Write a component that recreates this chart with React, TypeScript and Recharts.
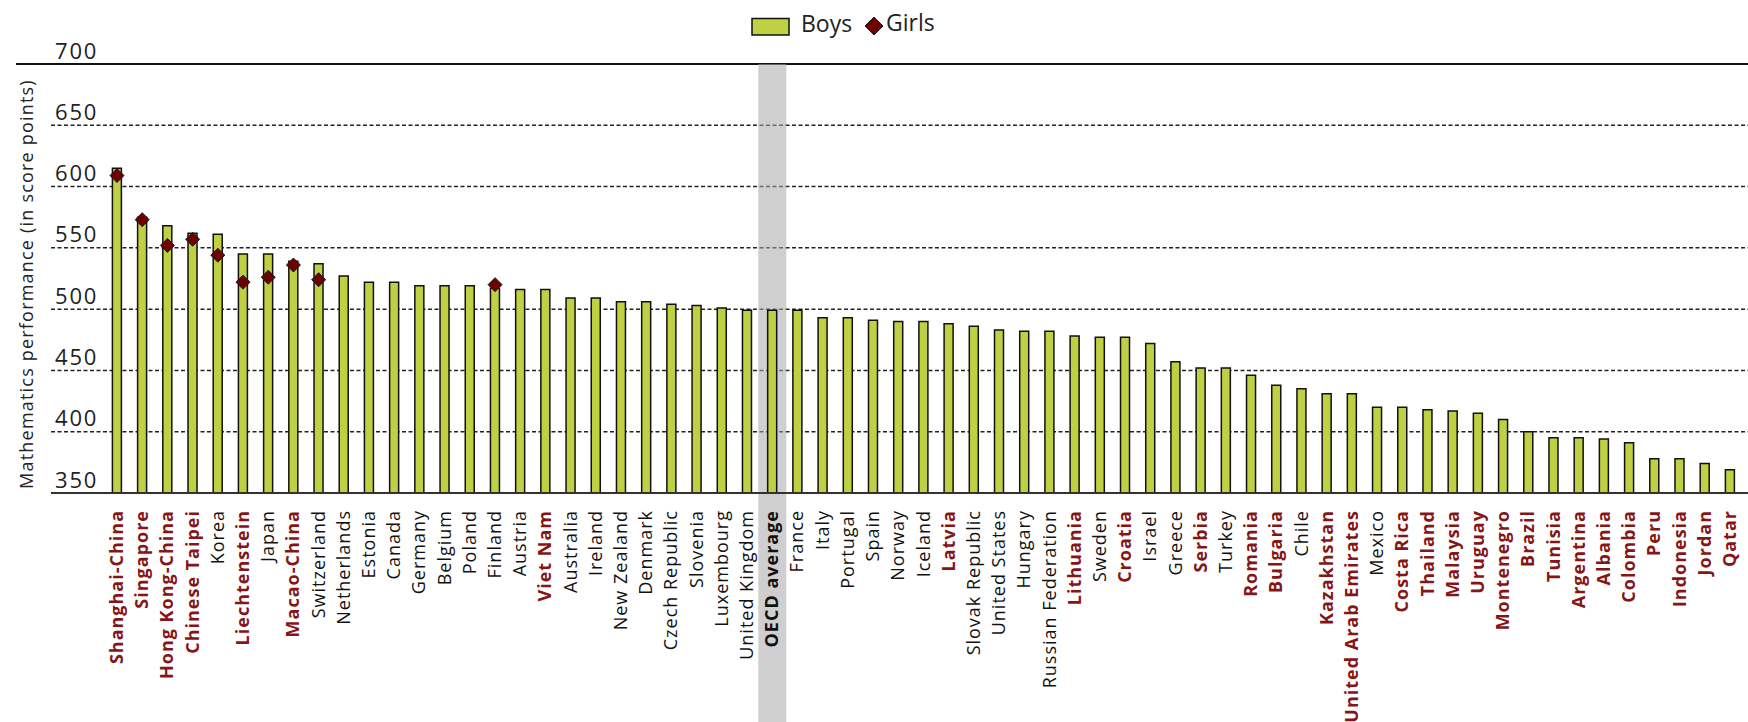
import { ComposedChart, Bar, Line, XAxis, YAxis, CartesianGrid, ReferenceArea } from "recharts";

// Mean mathematics scores by gender, sorted by the boys' score
const countries = [
  "Shanghai-China", "Singapore", "Hong Kong-China", "Chinese Taipei", "Korea",
  "Liechtenstein", "Japan", "Macao-China", "Switzerland", "Netherlands",
  "Estonia", "Canada", "Germany", "Belgium", "Poland", "Finland", "Austria",
  "Viet Nam", "Australia", "Ireland", "New Zealand", "Denmark", "Czech Republic",
  "Slovenia", "Luxembourg", "United Kingdom", "OECD average", "France", "Italy",
  "Portugal", "Spain", "Norway", "Iceland", "Latvia", "Slovak Republic",
  "United States", "Hungary", "Russian Federation", "Lithuania", "Sweden",
  "Croatia", "Israel", "Greece", "Serbia", "Turkey", "Romania", "Bulgaria",
  "Chile", "Kazakhstan", "United Arab Emirates", "Mexico", "Costa Rica",
  "Thailand", "Malaysia", "Uruguay", "Montenegro", "Brazil", "Tunisia",
  "Argentina", "Albania", "Colombia", "Peru", "Indonesia", "Jordan", "Qatar",
];

const boys = [
  615, 575, 568, 562, 561, 545, 545, 539, 537, 527,
  522, 522, 519, 519, 519, 517, 516, 516, 509, 509,
  506, 506, 504, 503, 501, 499, 499, 499, 493, 493,
  491, 490, 490, 488, 486, 483, 482, 482, 478, 477,
  477, 472, 457, 452, 452, 446, 438, 435, 431, 431,
  420, 420, 418, 417, 415, 410, 400, 395, 395, 394,
  391, 378, 378, 374, 369,
];

const girls: (number | null)[] = [
  609, 573, 552, 557, 544, 522, 526, 536, 524, null,
  null, null, null, null, null, 520, null, null, null, null,
  null, null, null, null, null, null, null, null, null, null,
  null, null, null, null, null, null, null, null, null, null,
  null, null, null, null, null, null, null, null, null, null,
  null, null, null, null, null, null, null, null, null, null,
  null, null, null, null, null,
];

// partner economies get the dark red label
const partners = [
  "Shanghai-China", "Singapore", "Hong Kong-China", "Chinese Taipei",
  "Liechtenstein", "Macao-China", "Viet Nam", "Latvia", "Lithuania", "Croatia",
  "Serbia", "Romania", "Bulgaria", "Kazakhstan", "United Arab Emirates",
  "Costa Rica", "Thailand", "Malaysia", "Uruguay", "Montenegro", "Brazil",
  "Tunisia", "Argentina", "Albania", "Colombia", "Peru", "Indonesia", "Jordan",
  "Qatar",
];

const yTicks = [350, 400, 450, 500, 550, 600, 650, 700];

const W = 1748;
const H = 722;
const PLOT_TOP = 64;
const AXIS_Y = 493;
const LABEL_TOP = 510;
const FONT = "'Open Sans', sans-serif";
const GREEN = "#bfd043";
const MAROON = "#6e0000";
const RED_TEXT = "#861515";

const data = countries.map((name, i) => ({ name, boys: boys[i], girls: girls[i] }));

const ScoreTick = (props: any) => {
  const { y, payload } = props;
  return (
    <text x={55} y={y - 5.5} fontSize={22} letterSpacing={1.8} fontFamily={FONT} fill="#222">
      {payload.value}
    </text>
  );
};

const CountryTick = (props: any) => {
  const { x, payload } = props;
  const name = payload.value as string;
  const red = partners.includes(name);
  const avg = name === "OECD average";
  const tx = x + 6;
  return (
    <text
      x={tx}
      y={LABEL_TOP}
      transform={`rotate(-90, ${tx}, ${LABEL_TOP})`}
      textAnchor="end"
      fontSize={18}
      letterSpacing={1}
      fontFamily={FONT}
      fontWeight={red || avg ? 700 : 400}
      fill={red ? RED_TEXT : "#111"}
    >
      {name}
    </text>
  );
};

const GridLine = (props: any) => {
  const { x2, y1, y2, index } = props;
  if (Math.abs(y1 - AXIS_Y) < 1) return <g key={`g-${index}`} />;
  if (Math.abs(y1 - PLOT_TOP) < 1) {
    return <line key={`g-${index}`} x1={16} x2={x2} y1={y1} y2={y2} stroke="#111" strokeWidth={2} />;
  }
  return (
    <line key={`g-${index}`} x1={51} x2={x2} y1={y1} y2={y2} stroke="#222" strokeWidth={1.5} strokeDasharray="4 2.5" />
  );
};

const AverageBand = (props: any) => {
  const { x, width } = props;
  const cx = x + width / 2;
  return <rect x={cx - 14} y={PLOT_TOP} width={28} height={H - PLOT_TOP} fill="#a8a8a8" fillOpacity={0.55} />;
};

const Diamond = (props: any) => {
  const { cx, cy, value, index } = props;
  if (value == null || cy == null || isNaN(cy)) return <g key={`d-${index}`} />;
  const r = 7;
  return (
    <path
      key={`d-${index}`}
      d={`M${cx},${cy - r}L${cx + r},${cy}L${cx},${cy + r}L${cx - r},${cy}Z`}
      fill={MAROON}
      stroke="#1a1a1a"
      strokeWidth={1}
    />
  );
};

export default function App() {
  return (
    <div style={{ position: "absolute", left: 0, top: 0, width: W, height: H, background: "#fff", overflow: "hidden" }}>
      <svg width={W} height={60} style={{ position: "absolute", left: 0, top: 0 }}>
        <rect x={752} y={18.5} width={37} height={16.5} fill={GREEN} stroke="#111" strokeWidth={1.5} />
        <text x={801} y={32} fontSize={23} fontFamily={FONT} fill="#222">Boys</text>
        <path d="M874,17L883,26L874,35L865,26Z" fill={MAROON} stroke="#1a1a1a" strokeWidth={1} />
        <text x={886} y={31} fontSize={23} fontFamily={FONT} fill="#222">Girls</text>
      </svg>
      <svg width={60} height={H} style={{ position: "absolute", left: 0, top: 0 }}>
        <text
          x={33}
          y={284}
          transform="rotate(-90, 33, 284)"
          textAnchor="middle"
          fontSize={18}
          letterSpacing={1.2}
          fontFamily={FONT}
          fill="#222"
        >
          Mathematics performance (in score points)
        </text>
      </svg>
      <ComposedChart
        width={W}
        height={H}
        data={data}
        margin={{ top: PLOT_TOP, right: 0, bottom: 0, left: 0 }}
        barSize={9}
      >
        <CartesianGrid vertical={false} horizontal={GridLine} />
        <ReferenceArea x1="OECD average" x2="OECD average" shape={AverageBand} ifOverflow="visible" />
        <XAxis
          dataKey="name"
          interval={0}
          height={H - AXIS_Y}
          padding={{ left: 53.4, right: 5.4 }}
          tickLine={false}
          axisLine={{ stroke: "#333", strokeWidth: 2 }}
          tick={CountryTick}
        />
        <YAxis
          domain={[350, 700]}
          ticks={yTicks}
          interval={0}
          width={51}
          axisLine={false}
          tickLine={false}
          tick={ScoreTick}
        />
        <Bar dataKey="boys" fill={GREEN} stroke="#111" strokeWidth={1.5} isAnimationActive={false} />
        <Line
          dataKey="girls"
          stroke="none"
          dot={Diamond}
          activeDot={false}
          connectNulls={false}
          isAnimationActive={false}
        />
      </ComposedChart>
    </div>
  );
}
